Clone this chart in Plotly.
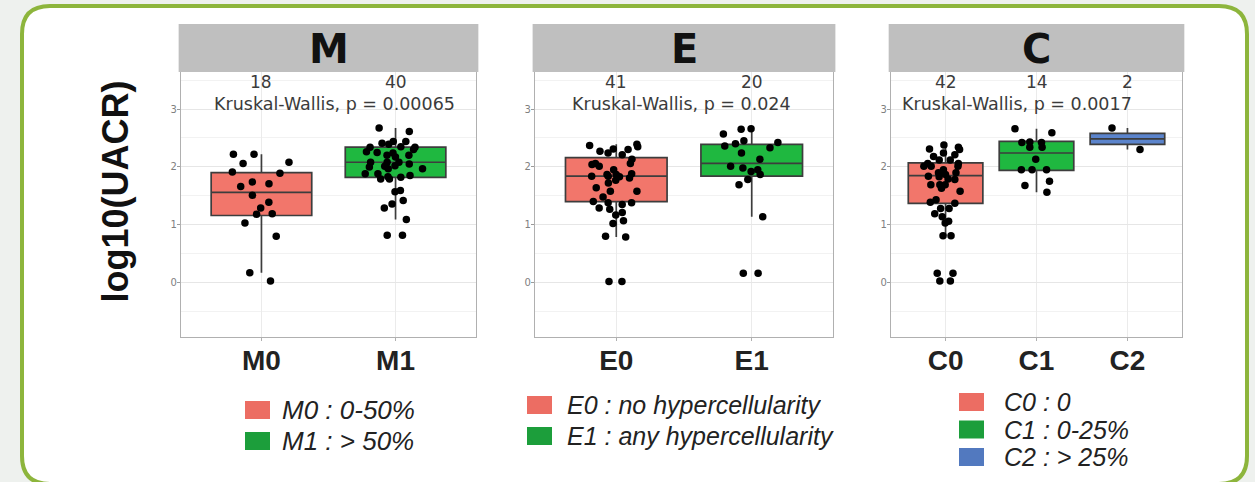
import plotly.graph_objects as go

W, H = 1255, 482

# ---------------- data ----------------
panel_titles = ["M", "E", "C"]

M_categories = ["M0", "M1"]
M0_values = [2.22, 2.22, 2.08, 2.06, 1.89, 1.91, 1.74, 1.71, 1.66, 1.51, 1.39, 1.29,
             1.18, 1.19, 1.03, 0.80, 0.17, 0.03]
M1_values = [2.67, 2.61, 2.41, 2.35, 2.39, 2.44, 2.44, 2.26, 2.24, 2.20, 2.20, 2.17,
             2.08, 2.08, 2.05, 2.00, 2.02, 1.97, 2.01, 1.97, 1.88, 1.83, 1.79, 1.82,
             1.85, 1.79, 1.59, 1.57, 1.42, 1.36, 1.29, 1.09, 0.82, 0.82, 1.88, 2.30,
             2.34, 2.08, 2.34, 2.25]
M_q1 = [1.16, 1.82]
M_median = [1.56, 2.08]
M_q3 = [1.90, 2.34]
M_lower = [0.17, 1.09]
M_upper = [2.22, 2.67]
M_pvalue = "Kruskal-Wallis, p = 0.00065"
M_legend = ["M0 : 0-50%", "M1 : > 50%"]

E_categories = ["E0", "E1"]
E0_values = [2.31, 2.35, 2.39, 2.37, 2.21, 2.27, 2.24, 2.30, 2.13, 2.06, 2.01, 2.06,
             2.04, 1.95, 1.87, 1.83, 1.88, 1.87, 1.81, 1.77, 1.72, 1.64, 1.58, 1.58,
             1.48, 1.40, 1.38, 1.38, 1.27, 1.29, 1.21, 1.17, 1.07, 1.02, 0.79, 0.80,
             0.02, 0.02, 1.84, 1.84, 1.35]
E1_values = [2.66, 2.65, 2.57, 2.42, 2.40, 2.45, 2.36, 2.33, 2.24, 2.13, 1.92, 2.01,
             1.98, 1.95, 1.87, 1.78, 1.69, 1.14, 0.16, 0.16]
E_q1 = [1.40, 1.84]
E_median = [1.84, 2.06]
E_q3 = [2.16, 2.39]
E_lower = [0.79, 1.14]
E_upper = [2.39, 2.66]
E_pvalue = "Kruskal-Wallis, p = 0.024"
E_legend = ["E0 : no hypercellularity", "E1 : any hypercellularity"]

C_categories = ["C0", "C1", "C2"]
C0_values = [2.30, 2.24, 2.21, 2.38, 2.31, 2.34, 2.18, 2.12, 2.12, 2.06, 2.06, 2.01,
             2.01, 1.95, 1.90, 1.90, 1.83, 1.84, 1.78, 1.79, 1.69, 1.69, 1.63, 1.58,
             1.43, 1.39, 1.37, 1.28, 1.28, 1.19, 1.14, 1.06, 1.03, 0.81, 0.81, 0.03,
             0.03, 0.16, 0.16, 1.69, 1.87, 2.01]
C1_values = [2.66, 2.59, 2.34, 2.34, 2.42, 2.42, 2.13, 1.95, 1.95, 1.75, 1.68, 1.56,
             2.43, 1.95]
C2_values = [2.67, 2.30]
C_q1 = [1.37, 1.94, 2.39]
C_median = [1.85, 2.24, 2.485]
C_q3 = [2.07, 2.44, 2.58]
C_lower = [0.81, 1.56, 2.30]
C_upper = [2.38, 2.66, 2.67]
C_pvalue = "Kruskal-Wallis, p = 0.0017"
C_legend = ["C0 : 0", "C1 : 0-25%", "C2 : > 25%"]

y_title = "log10(UACR)"
y_ticks = [0, 1, 2, 3]

box_colors = ["#F2766B", "#1FB840", "#5B84CC"]
legend_colors = ["#EC6D63", "#1C9E3B", "#5279BF"]

panels = [
    dict(title=panel_titles[0], cats=M_categories, vals=[M0_values, M1_values],
         q1=M_q1, med=M_median, q3=M_q3, lo=M_lower, hi=M_upper, p=M_pvalue, leg=M_legend),
    dict(title=panel_titles[1], cats=E_categories, vals=[E0_values, E1_values],
         q1=E_q1, med=E_median, q3=E_q3, lo=E_lower, hi=E_upper, p=E_pvalue, leg=E_legend),
    dict(title=panel_titles[2], cats=C_categories, vals=[C0_values, C1_values, C2_values],
         q1=C_q1, med=C_median, q3=C_q3, lo=C_lower, hi=C_upper, p=C_pvalue, leg=C_legend),
]

# ---------------- layout geometry (pixels) ----------------
def fx(p):
    return p / W


def fy(p):
    return 1 - p / H


x_domains_px = [(181, 476), (535, 833), (891, 1182)]
plot_top, plot_bot = 72, 337
strip_top = 24
box_widths = [0.75, 0.75, 0.82]
p_anchor = [("center", 0.52), ("center", 0.49), ("left", 0.03)]
legend_layout = [  # square left x, text x, first row top, row step, font size
    (245, 280, 401, 31, 26),
    (527, 565, 396, 31, 25),
    (959, 1002, 393, 27.5, 25),
]

fig = go.Figure()
shapes = []
annotations = []

# outer rounded frame
L, T, R, B, r = 22, 6, 1247, 484, 28
path = (f"M {fx(L+r)} {fy(T)} L {fx(R-r)} {fy(T)} Q {fx(R)} {fy(T)} {fx(R)} {fy(T+r)} "
        f"L {fx(R)} {fy(B-r)} Q {fx(R)} {fy(B)} {fx(R-r)} {fy(B)} "
        f"L {fx(L+r)} {fy(B)} Q {fx(L)} {fy(B)} {fx(L)} {fy(B-r)} "
        f"L {fx(L)} {fy(T+r)} Q {fx(L)} {fy(T)} {fx(L+r)} {fy(T)} Z")
shapes.append(dict(type="path", path=path, xref="paper", yref="paper", layer="below",
                   fillcolor="white", line=dict(color="#8DB53C", width=4)))

axis_font = "Liberation Sans, Arial, sans-serif"
gg_font = "DejaVu Sans, sans-serif"

for i, pnl in enumerate(panels):
    n = i + 1
    xref = "x" if n == 1 else f"x{n}"
    yref = "y" if n == 1 else f"y{n}"
    cats = pnl["cats"]
    for j, cat in enumerate(cats):
        fig.add_trace(go.Box(
            x=[cat], q1=[pnl["q1"][j]], median=[pnl["med"][j]], q3=[pnl["q3"][j]],
            lowerfence=[pnl["lo"][j]], upperfence=[pnl["hi"][j]],
            fillcolor=box_colors[j], line=dict(color="#3d3d3d", width=1.7),
            whiskerwidth=0, width=box_widths[i], boxpoints=False,
            showlegend=False, hoverinfo="skip", xaxis=xref, yaxis=yref))
    for j, cat in enumerate(cats):
        vals = pnl["vals"][j]
        fig.add_trace(go.Box(
            x=[cat] * len(vals), y=vals, boxpoints="all", jitter=0.65, pointpos=0,
            fillcolor="rgba(0,0,0,0)", line=dict(color="rgba(0,0,0,0)", width=0),
            marker=dict(color="black", size=7.5), whiskerwidth=0, width=box_widths[i],
            showlegend=False, xaxis=xref, yaxis=yref))
        # group size labels
        annotations.append(dict(x=cat, y=3.47, xref=xref, yref=yref, text=str(len(vals)),
                                showarrow=False, font=dict(family=gg_font, size=17, color="#3b3b3b")))

    d0, d1 = x_domains_px[i]
    axis_key_x = "xaxis" if n == 1 else f"xaxis{n}"
    axis_key_y = "yaxis" if n == 1 else f"yaxis{n}"
    fig.update_layout(**{
        axis_key_x: dict(
            domain=[fx(d0), fx(d1)], type="category", categoryorder="array",
            categoryarray=cats, range=[-0.6, len(cats) - 0.4], anchor=yref,
            showgrid=True, gridcolor="#EBEBEB", gridwidth=1, zeroline=False,
            showline=True, mirror=True, linecolor="#B0B0B0", linewidth=1.3,
            ticks="outside", ticklen=3, tickcolor="#B0B0B0", ticklabelstandoff=-5,
            tickfont=dict(family=axis_font, size=28, color="#222222", weight="bold")),
        axis_key_y: dict(
            domain=[fy(plot_bot), fy(plot_top)], range=[-0.94, 3.64], anchor=xref,
            tickmode="array", tickvals=y_ticks,
            showgrid=True, gridcolor="#E6E6E6", gridwidth=1, zeroline=False,
            minor=dict(tickmode="array", tickvals=[-0.5, 0.5, 1.5, 2.5, 3.5],
                       showgrid=True, gridcolor="#F2F2F2", gridwidth=1),
            showline=True, mirror=True, linecolor="#B0B0B0", linewidth=1.3,
            ticks="outside", ticklen=3, tickcolor="#9A9A9A", ticklabelstandoff=-2,
            tickfont=dict(family=gg_font, size=10, color="#808080")),
    })

    # strip header
    shapes.append(dict(type="rect", xref=f"{xref} domain", yref="paper",
                       x0=-0.008, x1=1.008, y0=fy(plot_top), y1=fy(strip_top),
                       fillcolor="#BFBFBF", line=dict(width=0), layer="above"))
    annotations.append(dict(x=0.5, y=fy((strip_top + plot_top) / 2 + 1), xref=f"{xref} domain", yref="paper",
                            text=pnl["title"], showarrow=False, yanchor="middle",
                            font=dict(family=gg_font, size=40, color="#111111", weight="bold")))
    # Kruskal-Wallis label
    anc, ax = p_anchor[i]
    annotations.append(dict(x=ax, y=3.09, xref=f"{xref} domain", yref=yref, text=pnl["p"],
                            showarrow=False, xanchor=anc,
                            font=dict(family=gg_font, size=17.5, color="#3b3b3b")))
    # legend block
    sq_x, tx_x, row0, step, fsz = legend_layout[i]
    for j, lab in enumerate(pnl["leg"]):
        top = row0 + j * step
        shapes.append(dict(type="rect", xref="paper", yref="paper",
                           x0=fx(sq_x), x1=fx(sq_x + 25), y0=fy(top + 18), y1=fy(top),
                           fillcolor=legend_colors[j], line=dict(width=0)))
        annotations.append(dict(x=fx(tx_x), y=fy(top + 9), xref="paper", yref="paper",
                                text=lab, showarrow=False, xanchor="left", yanchor="middle",
                                height=int(step) - 1, valign="middle",
                                font=dict(family=axis_font, size=fsz, color="#222222", style="italic")))

# y-axis title
annotations.append(dict(x=fx(93), y=fy(192), xref="paper", yref="paper", text=y_title,
                        textangle=-90, showarrow=False,
                        font=dict(family=axis_font, size=36, color="#111111", weight="bold")))

fig.update_layout(
    width=W, height=H, margin=dict(l=0, r=0, t=0, b=0),
    paper_bgcolor="#EEF1EE", plot_bgcolor="white",
    boxmode="overlay", showlegend=False,
    shapes=shapes, annotations=annotations,
)

fig.write_html("out.html")
